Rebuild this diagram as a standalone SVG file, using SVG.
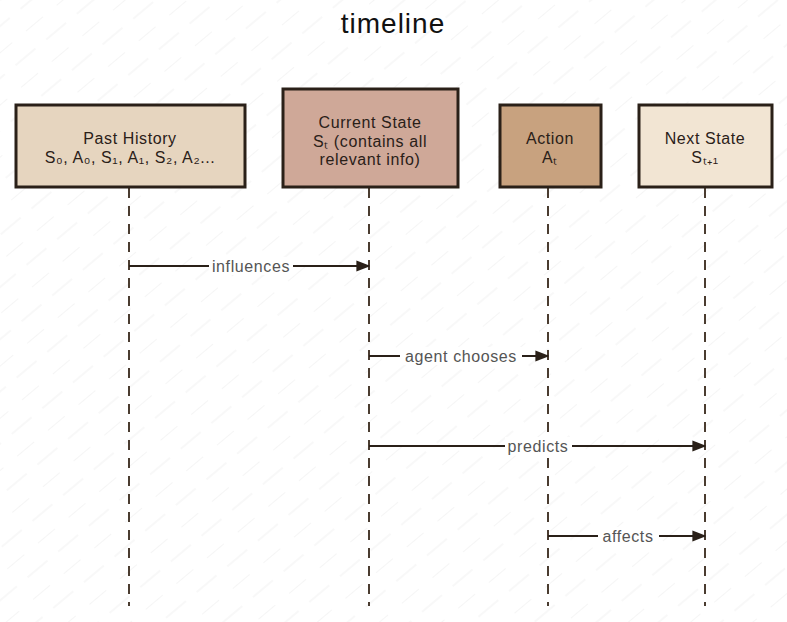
<svg xmlns="http://www.w3.org/2000/svg" width="787" height="622" viewBox="0 0 787 622">
<defs>
<pattern id="hatch" width="40" height="40" patternUnits="userSpaceOnUse" patternTransform="rotate(-40)">
<line x1="0" y1="0" x2="22" y2="0" stroke="#ececec" stroke-width="1"/>
<line x1="10" y1="20" x2="36" y2="20" stroke="#f1f1f1" stroke-width="1"/>
</pattern>
<marker id="arr" viewBox="0 0 10 10" refX="9" refY="5" markerWidth="14" markerHeight="14" markerUnits="userSpaceOnUse" orient="auto">
<path d="M0,1 L10,5 L0,9 Z" fill="#2a2018"/>
</marker>
<style>
.box{stroke:#2a2018;stroke-width:3}
.t{font-family:"Liberation Sans",sans-serif;font-size:16px;letter-spacing:0.6px;fill:#2a2018;text-anchor:middle}
.life{stroke:#4a3c30;stroke-width:2;stroke-dasharray:10 8;fill:none}
.msg{stroke:#2a2018;stroke-width:2;fill:none;marker-end:url(#arr)}
.lbl{font-family:"Liberation Sans",sans-serif;font-size:16px;letter-spacing:0.6px;fill:#555;text-anchor:middle}
.bg{fill:#fff}
</style>
</defs>
<rect width="787" height="622" fill="#fff"/>
<rect width="787" height="622" fill="url(#hatch)"/>
<text x="393" y="33" font-family="Liberation Sans, sans-serif" font-size="28" letter-spacing="1" fill="#111" text-anchor="middle">timeline</text>
<g id="lifelines">
<line class="life" x1="129" y1="188" x2="129" y2="606"/>
<line class="life" x1="369" y1="188" x2="369" y2="606"/>
<line class="life" x1="548" y1="188" x2="548" y2="606"/>
<line class="life" x1="705" y1="188" x2="705" y2="606"/>
</g>
<g id="past">
<rect class="box" x="16" y="105" width="229" height="82" fill="#e6d5bf"/>
<text class="t" x="130" y="144">Past History</text>
<text class="t" x="130" y="163">S₀, A₀, S₁, A₁, S₂, A₂...</text>
</g>
<g id="current">
<rect class="box" x="283" y="89" width="175" height="98" fill="#cfa898"/>
<text class="t" x="370" y="128">Current State</text>
<text class="t" x="370" y="147">Sₜ (contains all</text>
<text class="t" x="370" y="165">relevant info)</text>
</g>
<g id="action">
<rect class="box" x="500" y="105" width="101" height="82" fill="#c8a27f"/>
<text class="t" x="550" y="144">Action</text>
<text class="t" x="550" y="163">Aₜ</text>
</g>
<g id="next">
<rect class="box" x="639" y="105" width="133" height="82" fill="#f2e5d3"/>
<text class="t" x="705" y="144">Next State</text>
<text class="t" x="705" y="163">Sₜ₊₁</text>
</g>
<g id="connectors">
<line class="msg" x1="129" y1="266" x2="369" y2="266"/>
<rect class="bg" x="209" y="257" width="84" height="18"/>
<text class="lbl" x="251" y="272">influences</text>
<line class="msg" x1="369" y1="356" x2="548" y2="356"/>
<rect class="bg" x="400" y="347" width="122" height="18"/>
<text class="lbl" x="461" y="362">agent chooses</text>
<line class="msg" x1="369" y1="446" x2="705" y2="446"/>
<rect class="bg" x="505" y="437" width="67" height="18"/>
<text class="lbl" x="538" y="452">predicts</text>
<line class="msg" x1="548" y1="536" x2="705" y2="536"/>
<rect class="bg" x="598" y="527" width="61" height="18"/>
<text class="lbl" x="628" y="542">affects</text>
</g>
</svg>
